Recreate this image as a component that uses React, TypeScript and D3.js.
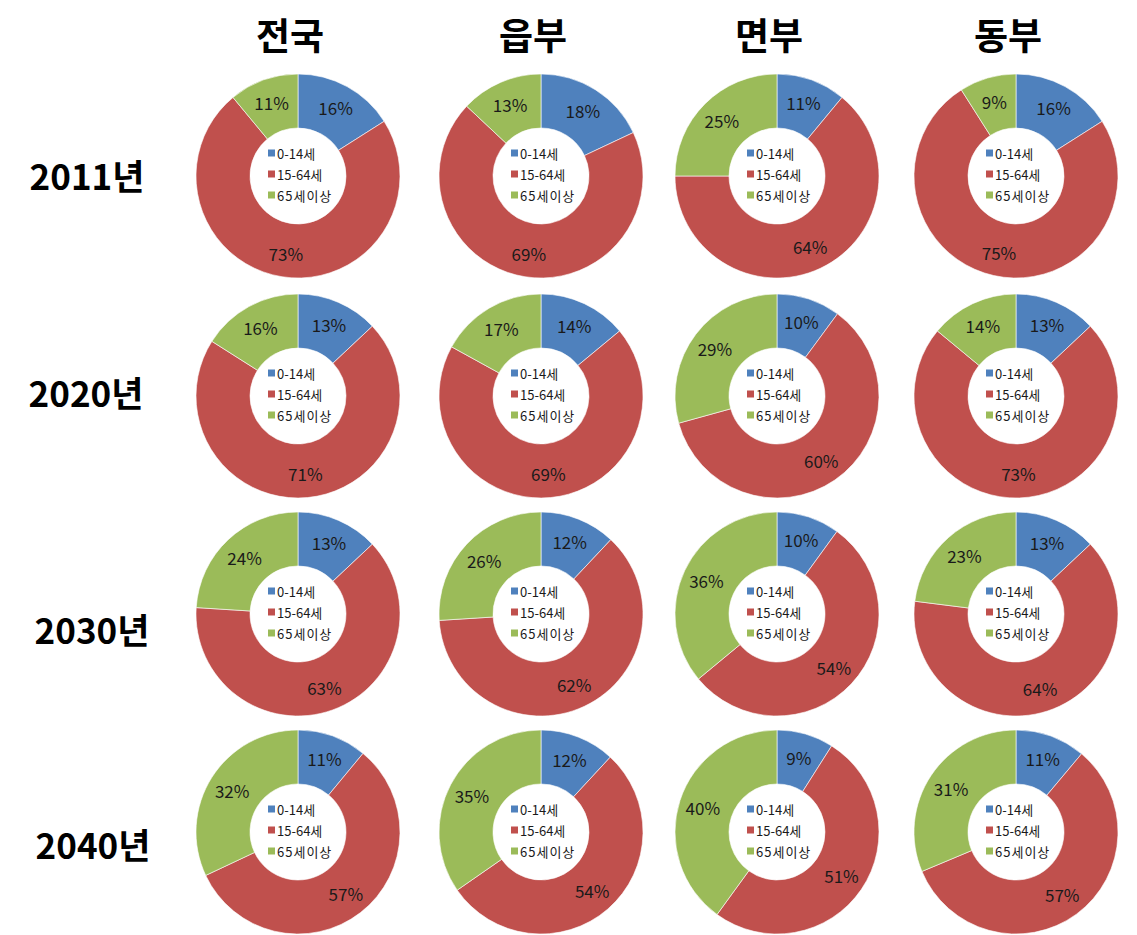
import React from "react";
import * as d3 from "d3";

const regions = ["전국", "읍부", "면부", "동부"];
const years = ["2011년", "2020년", "2030년", "2040년"];
const ageGroups = ["0-14세", "15-64세", "65세이상"];

// shares (%) per year row, per region column: [0-14, 15-64, 65+]
const share2011 = [[16, 73, 11], [18, 69, 13], [11, 64, 25], [16, 75, 9]];
const share2020 = [[13, 71, 16], [14, 69, 17], [10, 60, 29], [13, 73, 14]];
const share2030 = [[13, 63, 24], [12, 62, 26], [10, 54, 36], [13, 64, 23]];
const share2040 = [[11, 57, 32], [12, 54, 35], [9, 51, 40], [11, 57, 31]];
const shares = [share2011, share2020, share2030, share2040];

const colors = ["#4F81BD", "#C0504D", "#9BBB59"];

const W = 1137;
const H = 935;
const colCenters = [298, 541, 777, 1016];
const rowCenters = [176, 396, 614, 832];
const rowLabelY = [174, 391, 628, 843];
const rowLabelX = [87, 86, 92, 93];
const outerR = 102;
const innerR = 48;
const labelR = 78;

const FONT = "'Noto Sans CJK KR', 'Noto Sans', sans-serif";

function Donut({ cx, cy, values }: { cx: number; cy: number; values: number[] }) {
  const pie = d3.pie<number>().sort(null).value((d) => d);
  const arcs = pie(values);
  const arc = d3.arc<d3.PieArcDatum<number>>().innerRadius(innerR).outerRadius(outerR);
  const labelArc = d3.arc<d3.PieArcDatum<number>>().innerRadius(labelR).outerRadius(labelR);
  const legendY = d3.scalePoint<string>().domain(ageGroups).range([-23, 19]);
  return (
    <g transform={`translate(${cx},${cy})`}>
      {arcs.map((a, i) => (
        <path key={i} d={arc(a) || ""} fill={colors[i]} stroke="#fff" strokeWidth={0.6} />
      ))}
      {arcs.map((a, i) => {
        const [x, y] = labelArc.centroid(a);
        return (
          <text
            key={"l" + i}
            x={x}
            y={y}
            textAnchor="middle"
            dominantBaseline="central"
            fontFamily={FONT}
            fontSize={17}
            fill="#1a1a1a"
          >
            {values[i]}%
          </text>
        );
      })}
      {ageGroups.map((g, i) => {
        const y = legendY(g) || 0;
        return (
          <g key={"g" + i}>
            <rect x={-30} y={y - 3.5} width={7} height={7} fill={colors[i]} />
            <text
              x={-21}
              y={y}
              dominantBaseline="central"
              fontFamily={FONT}
              fontSize={13}
              fill="#1a1a1a"
              letterSpacing={i === 2 ? 1 : 0}
            >
              {g}
            </text>
          </g>
        );
      })}
    </g>
  );
}

export default function App() {
  return (
    <svg
      width={W}
      height={H}
      viewBox={`0 0 ${W} ${H}`}
      style={{ position: "absolute", left: 0, top: 0, background: "#fff" }}
    >
      <rect width={W} height={H} fill="#fff" />
      {regions.map((r, j) => (
        <text
          key={r}
          x={colCenters[j] - 8}
          y={50}
          textAnchor="middle"
          fontFamily={FONT}
          fontWeight={700}
          fontSize={37}
          fill="#000"
        >
          {r}
        </text>
      ))}
      {years.map((y, i) => (
        <text
          key={y}
          x={rowLabelX[i]}
          y={rowLabelY[i]}
          textAnchor="middle"
          dominantBaseline="central"
          fontFamily={FONT}
          fontWeight={700}
          fontSize={35}
          fill="#000"
        >
          {y}
        </text>
      ))}
      {shares.map((row, i) =>
        row.map((vals, j) => (
          <Donut key={`${i}-${j}`} cx={colCenters[j]} cy={rowCenters[i]} values={vals} />
        ))
      )}
    </svg>
  );
}
